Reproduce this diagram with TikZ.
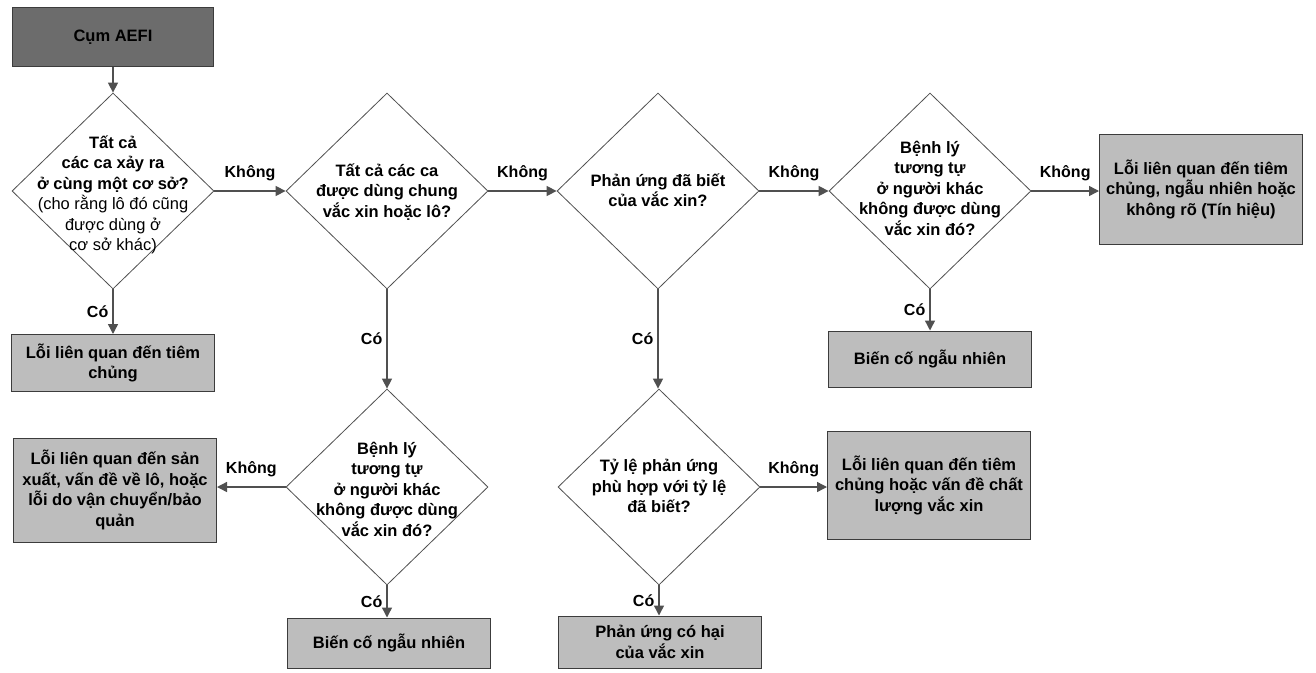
\documentclass[tikz,border=0pt]{standalone}
\usepackage{fontspec}
\setmainfont{Liberation Sans}
\usetikzlibrary{shapes.geometric,arrows.meta}

\definecolor{startgray}{HTML}{6C6C6C}
\definecolor{outgray}{HTML}{BDBDBD}
\definecolor{edgegray}{HTML}{3C3C3C}
\definecolor{arrgray}{HTML}{505050}

\tikzset{
  startbox/.style={rectangle, draw=edgegray, line width=1pt, fill=startgray,
    minimum width=201pt, minimum height=59pt, inner sep=0pt, align=center},
  outbox/.style={rectangle, draw=edgegray, line width=1pt, fill=outgray,
    minimum width=203pt, inner sep=0pt, align=center},
  decision/.style={diamond, draw=arrgray, line width=0.8pt, fill=white,
    minimum width=202pt, minimum height=196pt, inner sep=0pt},
  qtext/.style={align=center, inner sep=0pt},
  arr/.style={draw=arrgray, line width=1.4pt,
    -{Triangle[length=10pt,width=10pt]}},
  lbl/.style={font=\fontsize{16}{18}\selectfont\bfseries, inner sep=4pt},
  nolbl/.style={lbl, above, yshift=5pt}
}

\begin{document}
\begin{tikzpicture}[x=1pt, y=-1pt,
  every node/.append style={font=\fontsize{16.5}{20.5}\selectfont\bfseries}]

  \useasboundingbox (0,0) rectangle (1316,672);

  % start
  \node[startbox] (start) at (113,37) {Cụm AEFI};

  % the questions
  \node[decision] (d1) at (113,191) {};
  \node[qtext] (d1t) at (113,195) {Tất cả\\các ca xảy ra\\ở cùng một cơ sở?\\
    \mdseries(cho rằng lô đó cũng\\\mdseries được dùng ở\\\mdseries cơ sở khác)};
  \node[decision] (d2) at (387,191) {};
  \node[qtext] (d2t) at (387,192) {Tất cả các ca\\được dùng chung\\vắc xin hoặc lô?};
  \node[decision] (d3) at (658,191) {};
  \node[qtext] (d3t) at (658,190) {Phản ứng đã biết\\của vắc xin?};
  \node[decision] (d4) at (930,191) {};
  \node[qtext] (d4t) at (930,188) {Bệnh lý\\tương tự\\ở người khác\\không được dùng\\vắc xin đó?};
  \node[decision] (d5) at (387,487) {};
  \node[qtext] (d5t) at (387,489) {Bệnh lý\\tương tự\\ở người khác\\không được dùng\\vắc xin đó?};
  \node[decision] (d6) at (659,487) {};
  \node[qtext] (d6t) at (659,486) {Tỷ lệ phản ứng\\phù hợp với tỷ lệ\\đã biết?};

  % the outcomes
  \node[outbox, minimum height=57pt] (o1) at (113,363) {Lỗi liên quan đến tiêm\\chủng};
  \node[outbox, minimum height=110pt] (o2) at (1201,189) {Lỗi liên quan đến tiêm\\chủng, ngẫu nhiên hoặc\\không rõ (Tín hiệu)};
  \node[outbox, minimum height=56pt] (o3) at (930,359) {Biến cố ngẫu nhiên};
  \node[outbox, minimum height=104pt] (o4) at (115,490) {Lỗi liên quan đến sản\\xuất, vấn đề về lô, hoặc\\lỗi do vận chuyển/bảo\\quản};
  \node[outbox, minimum height=108pt] (o5) at (929,485) {Lỗi liên quan đến tiêm\\chủng hoặc vấn đề chất\\lượng vắc xin};
  \node[outbox, minimum height=50pt] (o6) at (389,643) {Biến cố ngẫu nhiên};
  \node[outbox, minimum height=52pt] (o7) at (660,642) {Phản ứng có hại\\của vắc xin};

  % connectors
  \draw[arr] (start) -- (d1.north);
  \draw[arr] (d1.east) -- node[nolbl] {Không} (d2.west);
  \draw[arr] (d2.east) -- node[nolbl] {Không} (d3.west);
  \draw[arr] (d3.east) -- node[nolbl] {Không} (d4.west);
  \draw[arr] (d4.east) -- node[nolbl] {Không} (d4.east -| o2.west);
  \draw[arr] (d5.west) -- node[nolbl] {Không} (d5.west -| o4.east);
  \draw[arr] (d6.east) -- node[nolbl] {Không} (d6.east -| o5.west);

  \draw[arr] (d1.south) -- node[lbl, left] {Có} (o1.north);
  \draw[arr] (d2.south) -- node[lbl, left] {Có} (d5.north);
  \draw[arr] (d3.south) -- node[lbl, left] {Có} (d3.south |- d6.north);
  \draw[arr] (d4.south) -- node[lbl, left] {Có} (o3.north);
  \draw[arr] (d5.south) -- node[lbl, left] {Có} (o6.north -| d5.south);
  \draw[arr] (d6.south) -- node[lbl, left] {Có} (o7.north -| d6.south);

\end{tikzpicture}
\end{document}
